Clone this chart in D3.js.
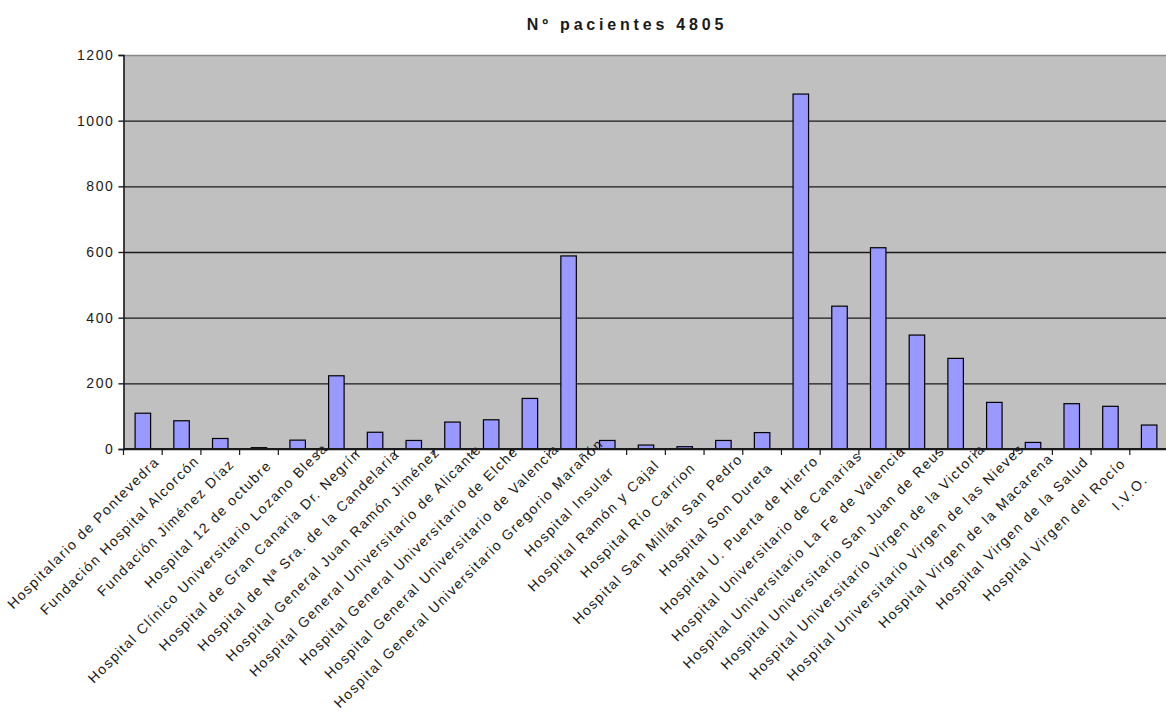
<!DOCTYPE html>
<html>
<head>
<meta charset="utf-8">
<title>Nº pacientes 4805</title>
<style>
  body { margin: 0; background: #fff; }
  svg { display: block; font-family: "Liberation Sans", Arial, sans-serif; }
  .plot { fill: #c0c0c0; }
  .bar { fill: #9999ff; stroke: #000; stroke-width: 1.2; }
  .grid line { stroke: #1a1a1a; stroke-width: 1.4; }
  .grid path { display: none; }
  .yaxis text, .cat { fill: #1a1a1a; }
</style>
</head>
<body>
<svg width="1166" height="718"></svg>

<script src="https://cdn.jsdelivr.net/npm/d3@7"></script>
<script>

const hospitals = [
  'Hospitalario de Pontevedra',
  'Fundación Hospital Alcorcón',
  'Fundación Jiménez Díaz',
  'Hospital 12 de octubre',
  'Hospital Clínico Universitario Lozano Blesa',
  'Hospital de Gran Canaria Dr. Negrín',
  'Hospital de Nª Sra. de la Candelaria',
  'Hospital General Juan Ramón Jiménez',
  'Hospital General Universitario de Alicante',
  'Hospital General Universitario de Elche',
  'Hospital General Universitario de Valencia',
  'Hospital General Universitario Gregorio Marañón',
  'Hospital Insular',
  'Hospital Ramón y Cajal',
  'Hospital Río Carrion',
  'Hospital San Millán San Pedro',
  'Hospital Son Dureta',
  'Hospital U. Puerta de Hierro',
  'Hospital Universitario de Canarias',
  'Hospital Universitario La Fe de Valencia',
  'Hospital Universitario San Juan de Reus',
  'Hospital Universitario Virgen de la Victoria',
  'Hospital Universitario Virgen de las Nieves',
  'Hospital Virgen de la Macarena',
  'Hospital Virgen de la Salud',
  'Hospital Virgen del Rocío',
  'I.V.O.'
];

const patients = [109, 86, 32, 4, 27, 223, 51, 26, 82, 89, 154, 588, 26, 12, 7, 26, 50,
                  1081, 435, 613, 347, 276, 142, 20, 138, 130, 73];

const yTicks = [0, 200, 400, 600, 800, 1000, 1200];
const title = 'Nº pacientes 4805';

const plotLeft = 123.5, plotRight = 1168.5, plotTop = 55, plotBottom = 449;

const svg = d3.select('svg');

const xScale = d3.scaleBand()
    .domain(hospitals)
    .range([plotLeft, plotRight])
    .paddingInner(0.6)
    .paddingOuter(0.3);

const yScale = d3.scaleLinear().domain([0, 1200]).range([plotBottom, plotTop]);

// plot background
svg.append('rect')
    .classed('plot', true)
    .attr('x', plotLeft).attr('y', plotTop)
    .attr('width', plotRight - plotLeft).attr('height', plotBottom - plotTop);

// gridlines
svg.append('g')
    .classed('grid', true)
    .attr('transform', `translate(${plotLeft},0)`)
    .call(d3.axisLeft(yScale).tickValues(yTicks).tickSize(-(plotRight - plotLeft)).tickFormat(''))
    .call(g => g.selectAll('line').filter(d => d === 1200).style('stroke', '#8a8a8a'));

// bars
svg.selectAll('.bar')
    .data(hospitals)
    .enter()
    .append('rect')
    .classed('bar', true)
    .attr('x', d => xScale(d))
    .attr('width', xScale.bandwidth())
    .attr('y', (d, i) => yScale(patients[i]))
    .attr('height', (d, i) => plotBottom - yScale(patients[i]));

// y axis
svg.append('g')
    .classed('yaxis', true)
    .attr('transform', `translate(${plotLeft},0)`)
    .call(d3.axisLeft(yScale).tickValues(yTicks).tickFormat(d3.format('d')).tickSize(5).tickPadding(4))
    .call(g => g.select('.domain').attr('stroke', '#1a1a1a').attr('stroke-width', 1.6))
    .call(g => g.selectAll('line').attr('stroke', '#1a1a1a').attr('stroke-width', 1.4))
    .call(g => g.selectAll('text')
        .attr('font-family', '"Liberation Sans", Arial, sans-serif')
        .attr('font-size', 14)
        .attr('letter-spacing', 1.6));

// x axis line and ticks at category boundaries
const xaxis = svg.append('g').classed('xaxis', true);
xaxis.append('line')
    .attr('x1', plotLeft).attr('x2', plotRight)
    .attr('y1', plotBottom).attr('y2', plotBottom)
    .attr('stroke', '#1a1a1a').attr('stroke-width', 1.8);
xaxis.selectAll('.tick')
    .data(hospitals)
    .enter()
    .append('line')
    .attr('x1', d => xScale(d) + xScale.bandwidth() / 2 - xScale.step() / 2)
    .attr('x2', d => xScale(d) + xScale.bandwidth() / 2 - xScale.step() / 2)
    .attr('y1', plotBottom).attr('y2', plotBottom + 6)
    .attr('stroke', '#1a1a1a').attr('stroke-width', 1.2);

// category labels, rotated 45 degrees; longer labels sit higher, like the original
const labels = svg.selectAll('.cat')
    .data(hospitals)
    .enter()
    .append('text')
    .classed('cat', true)
    .attr('font-size', 14)
    .attr('letter-spacing', 1.5)
    .attr('text-anchor', 'end')
    .attr('dominant-baseline', 'central')
    .text(d => d);

labels.each(function (d) {
    const len = this.getComputedTextLength();
    const dy = 33 - 0.11 * len;
    const cx = xScale(d) + xScale.bandwidth() / 2 + 24 - dy;
    const cy = plotBottom + dy;
    d3.select(this).attr('transform', `translate(${cx},${cy}) rotate(-45)`);
});

// title
svg.append('text')
    .attr('x', 627).attr('y', 30)
    .attr('text-anchor', 'middle')
    .attr('font-size', 16)
    .attr('font-weight', 'bold')
    .attr('letter-spacing', 3.8)
    .attr('fill', '#1a1a1a')
    .text(title);

</script>
</body>
</html>
